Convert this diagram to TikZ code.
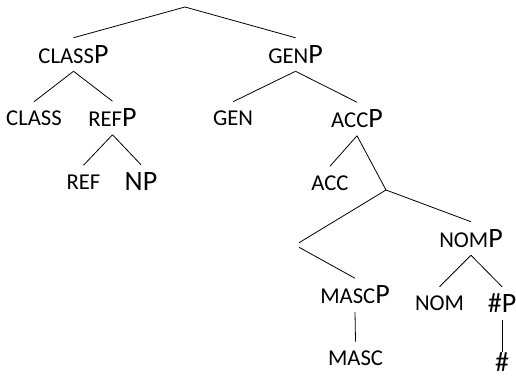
\documentclass[tikz,border=0pt]{standalone}
\usepackage{fontspec}
\setmainfont{Carlito}
\usetikzlibrary{positioning}
\newcommand{\sm}[1]{{\fontsize{17}{20}\selectfont #1}}

\begin{document}
\begin{tikzpicture}[x=0.75pt,y=-0.75pt,
   font=\fontsize{21}{24}\selectfont,
   lbl/.style={inner sep=0pt,minimum height=24.75pt},
   hsh/.style={inner sep=0pt,minimum height=12pt},
   e/.style={line width=0.6pt}]
\useasboundingbox (0,0) rectangle (516,375);
%% ---- left branch ----
\coordinate (root) at (185,7);
\node[lbl] (classp) at (73.5,54.5) {\sm{CLASS}P};
\node[lbl] (class) at (34,118.5) {\sm{CLASS}};
\node[lbl] (refp) at (112.5,118) {\sm{REF}P};
\node[lbl] (ref) at (83.5,182) {\sm{REF}};
\node[lbl] (np) at (141,181.5) {NP};
\draw[e] (root)--(classp.north);
\draw[e] (classp.south)--(class.north);
\draw[e] (classp.south)--(refp.north);
\draw[e] (refp.south)--(ref.north);
\draw[e] (refp.south)--(np.north);
%% ---- right branch ----
\node[lbl] (genp) at (295.5,54.5) {\sm{GEN}P};
\node[lbl] (gen) at (233,118.5) {\sm{GEN}};
\node[lbl] (accp) at (357,119) {\sm{ACC}P};
\node[lbl] (acc) at (330,183) {\sm{ACC}};
\coordinate (x) at (386,190);
\node[inner sep=0pt,minimum height=3pt] (y) at (299,245) {};
\node[lbl] (nomp) at (471,238.5) {\sm{NOM}P};
\node[lbl] (mascp) at (355,295) {\sm{MASC}P};
\node[lbl] (masc) at (355.5,358.5) {\sm{MASC}};
\node[lbl] (nom) at (439.5,303.5) {\sm{NOM}};
\node[lbl] (hp) at (502,303.5) {\#P};
\node[hsh] (h) at (502,362) {\#};
\draw[e] (root)--(genp.north);
\draw[e] (genp.south)--(gen.north);
\draw[e] (genp.south)--(accp.north);
\draw[e] (accp.south)--(acc.north);
\draw[e] (accp.south)--(x);
\draw[e] (x)--(y.north);
\draw[e] (x)--(nomp.north);
\draw[e] (y.south)--(mascp.north);   % unlabelled node, one daughter
\draw[e] (mascp.south)--(masc.north);
\draw[e] (nomp.south)--(nom.north);
\draw[e] (nomp.south)--(hp.north);
\draw[e] (hp.south)--(h.north);
\end{tikzpicture}
\end{document}
